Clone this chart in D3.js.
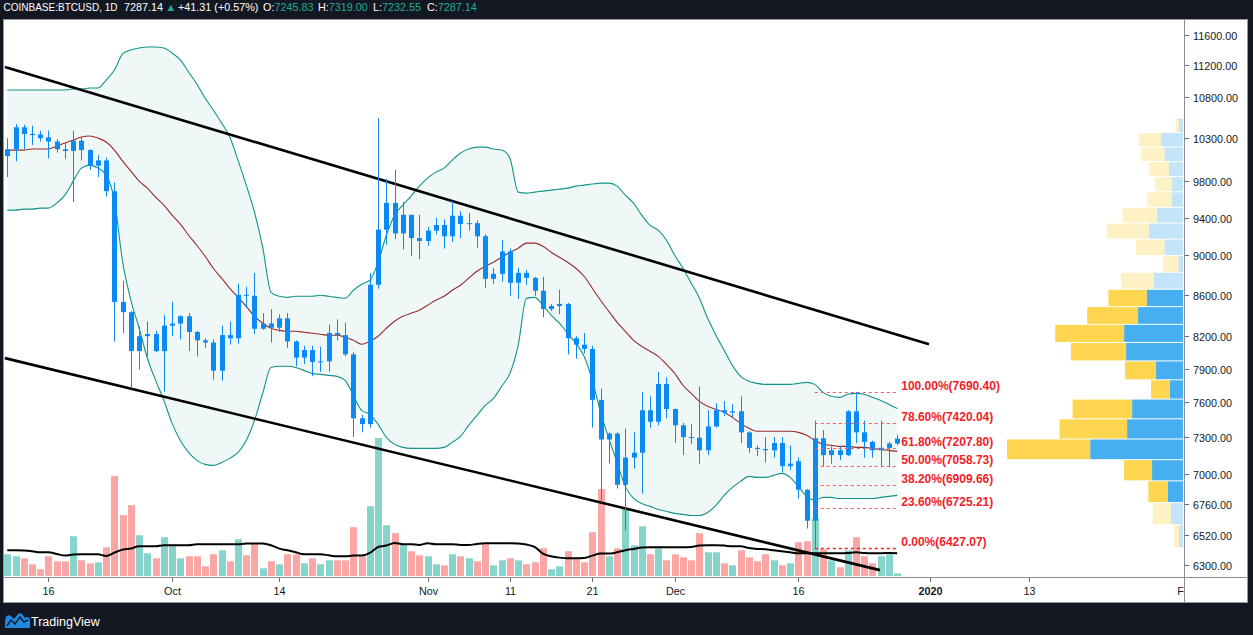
<!DOCTYPE html>
<html><head><meta charset="utf-8">
<script src="https://cdn.jsdelivr.net/npm/d3@7"></script>
<style>
html,body{margin:0;padding:0;background:#131722;overflow:hidden;}
svg{display:block;}
text{font-family:"Liberation Sans",Arial,sans-serif;}
</style></head><body>
<svg id="chart" width="1253" height="635"></svg>
<script>
// ---------------- DATA ----------------
const startDate = "2019-09-11";   // first daily candle, one candle per day
const open = [10090,10170,10430,10350,10345,10310,10260,10170,10150,10270,
  10160,9980,10040,9690,8530,8430,8060,8200,8220,8060,
  8300,8320,8390,8240,8160,8140,7880,8210,8180,8600,
  8590,8270,8320,8280,8370,8150,8000,8070,7960,7965,
  8230,8210,8030,7460,7410,8700,9270,9560,9230,9430,
  9180,9150,9260,9320,9200,9420,9330,9340,9200,8760,
  8810,9040,8720,8820,8770,8640,8460,8490,8510,8180,
  8120,8080,7620,7280,7330,6910,7130,7170,7530,7430,
  7760,7540,7400,7300,7295,7190,7390,7530,7510,7520,
  7340,7210,7200,7190,7250,7060,7100,6870,6630,7290,
  7150,7190,7150,7520,7340,7260,7190,7210,7245.83];
const high = [10300,10470,10460,10450,10390,10390,10290,10250,10390,10310,
  10170,10100,10070,9790,8740,8440,8290,8340,8250,8400,
  8530,8400,8420,8250,8180,8170,8300,8340,8710,8680,
  8820,8420,8460,8410,8420,8160,8110,8110,8100,8310,
  8360,8330,8050,7490,8820,10540,9830,9930,9570,9430,
  9430,9300,9400,9380,9580,9470,9450,9370,9220,8870,
  9160,9070,8870,8850,8780,8780,8510,8650,8520,8200,
  8230,8110,7720,7340,7340,7370,7340,7690,7650,7870,
  7820,7545,7420,7410,7740,7530,7590,7610,7580,7650,
  7350,7230,7300,7300,7300,7230,7130,6875,7440,7360,
  7220,7220,7530,7690.40,7440,7270,7440,7260,7319.00];
const low = [9850,10030,10170,10220,10260,10060,10130,10060,9570,10040,
  9930,9850,9630,8150,8230,7720,7890,8010,8050,7690,
  8200,8170,8060,8010,8090,7800,7790,8120,8130,8470,
  8220,8260,8140,8240,8090,7920,7940,7830,7870,7870,
  8160,8010,7300,7340,7380,8660,9110,9170,9060,8990,
  8960,9100,9220,9070,9140,9180,9260,9080,8670,8710,
  8730,8590,8560,8700,8590,8380,8440,8410,8030,7990,
  8040,7380,6770,7080,6880,6560,7040,6840,7380,7400,
  7460,7250,7150,7240,7080,7150,7380,7480,7470,7250,
  7170,7140,7090,7130,7010,7030,6800,6570,6427.07,7060,
  7080,7110,7140,7250,7130,7130,7060,7060,7232.55];
const close = [10170,10430,10350,10345,10300,10260,10170,10150,10270,10160,
  9980,10040,9690,8530,8430,8060,8200,8220,8060,8300,
  8320,8390,8240,8160,8140,7880,8210,8180,8600,8590,
  8270,8320,8280,8370,8150,8000,8070,7960,7965,8230,
  8210,8030,7460,7410,8700,9270,9560,9230,9430,9180,
  9150,9260,9320,9200,9420,9330,9340,9200,8760,8810,
  9040,8720,8820,8770,8640,8460,8490,8510,8180,8120,
  8080,7620,7280,7330,6910,7130,7170,7530,7430,7760,
  7540,7400,7300,7295,7190,7390,7530,7510,7520,7340,
  7210,7200,7190,7250,7060,7080,6870,6630,7290,7150,
  7190,7150,7520,7340,7260,7190,7210,7246,7287.14];
const volume = [6500,5900,5300,3500,2000,5900,4400,4400,11900,4700,
  3800,4100,8600,29900,18200,21200,12200,6800,5300,11600,
  9500,5300,5900,5900,2900,6500,7700,4400,11000,6200,
  9500,2300,4400,3500,6500,6500,3800,5300,3500,4700,
  4700,4700,14600,5900,20900,41300,15200,12800,9500,7400,
  6200,5900,3500,3200,6500,5900,5300,4400,9500,3200,
  4700,5300,4700,3500,4100,8300,2000,2900,7400,5000,
  4100,13100,26000,5900,8300,20000,9200,14900,6500,8300,
  4700,6500,5600,4700,12800,7100,7100,3800,3200,7700,
  5600,4400,6500,4700,3200,3800,10100,10400,17200,8000,
  4700,2600,7700,11600,5900,3800,5900,6500,800];
const volumeMA = [7700,7700,7600,7400,7100,7100,6600,6100,6400,6500,
  6500,6500,6000,7000,7900,8200,8900,8900,8900,9200,
  9200,9200,9200,9500,9500,9500,9500,9500,9500,9700,
  9700,9700,9200,8200,7700,7100,6500,6500,6500,6200,
  5900,5900,6100,6100,6900,8700,9100,9900,9500,9500,
  9300,9800,9500,9500,9500,9300,9300,9600,9800,9800,
  9800,9800,9700,9400,8700,6700,5900,5500,5300,5300,
  5400,6100,6700,6700,7100,7700,8100,8500,8600,8600,
  8600,8600,8600,8700,9100,9200,9200,9100,8900,8900,
  8400,8100,8000,7700,7400,7100,6800,6800,6800,6800,
  6800,6800,6900,7100,6900,6800,6800,6900,6800];
const bbUpper = [10888,10888,10888,10888,10888,10888,10888,10888,10900,10900,
  10913,10913,11014,11142,11350,11402,11428,11441,11441,11428,
  11362,11271,11116,10964,10788,10640,10482,10314,10043,9758,
  9459,9084,8625,8585,8575,8585,8585,8585,8595,8585,
  8575,8566,8645,8706,8746,8929,9211,9426,9536,9636,
  9747,9837,9905,9951,10043,10125,10172,10195,10195,10172,
  10160,10066,9680,9669,9680,9691,9702,9713,9724,9747,
  9758,9770,9780,9780,9747,9646,9558,9426,9318,9265,
  9158,9000,8867,8716,8566,8370,8209,8067,7929,7829,
  7784,7766,7757,7757,7757,7757,7766,7775,7757,7686,
  7651,7642,7669,7677,7669,7642,7615,7580,7545];
const bbBasis = [10160,10160,10160,10172,10172,10172,10206,10243,10278,10314,
  10326,10302,10255,10160,10031,9917,9803,9724,9624,9536,
  9426,9329,9211,9105,8991,8867,8766,8665,8575,8487,
  8390,8323,8275,8256,8246,8246,8237,8228,8218,8209,
  8209,8190,8161,8124,8152,8199,8275,8342,8390,8419,
  8448,8497,8546,8585,8645,8695,8766,8837,8888,8929,
  8980,9032,9074,9127,9127,9095,9032,8980,8929,8867,
  8786,8665,8546,8438,8332,8246,8161,8104,8058,8011,
  7938,7856,7749,7677,7606,7563,7537,7511,7468,7416,
  7374,7349,7349,7349,7349,7349,7340,7315,7272,7239,
  7231,7222,7222,7214,7214,7206,7197,7189,7181];
const bbLower = [9481,9481,9492,9492,9503,9503,9558,9646,9803,9951,
  9985,9951,9871,9591,8929,8546,8275,7994,7793,7615,
  7416,7272,7172,7107,7074,7066,7090,7123,7172,7272,
  7442,7678,7910,7920,7920,7910,7883,7856,7847,7838,
  7829,7793,7659,7528,7494,7408,7298,7239,7214,7206,
  7206,7206,7206,7214,7256,7306,7399,7485,7571,7632,
  7740,7856,8114,8565,8575,8497,8400,8323,8228,8133,
  8012,7793,7511,7289,7090,6897,6802,6763,6740,6716,
  6701,6686,6678,6670,6670,6693,6748,6826,6889,6937,
  6977,6969,6969,6985,7001,6969,6897,6818,6787,6810,
  6810,6802,6802,6802,6802,6802,6810,6818,6826];
// trend channel anchors [time, price]
const channelUpper = [["2019-09-10T17:00:00Z", 11180], ["2019-12-31T20:40:00Z", 8125]];
const channelLower = [["2019-09-10T17:00:00Z", 7995], ["2019-12-25T21:30:00Z", 6263]];
// Fibonacci retracement
const fibLevels = ["100.00", "78.60", "61.80", "50.00", "38.20", "23.60", "0.00"];
const fibPrices = [7690.40, 7420.04, 7207.80, 7058.73, 6909.66, 6725.21, 6427.07];
const fibFrom = "2019-12-18", fibTo = "2019-12-28";
// visible-range volume profile, 24 rows from low to high
const vpUp   = [12,36,46,93,279,168,153,40,81,171,177,135,109,89,14,56,103,79,35,34,42,56,66,12];
const vpDown = [15,55,58,84,250,203,179,56,93,166,207,153,115,97,46,85,126,103,72,50,60,70,67,9];
const vpValueArea = [2, 12];
// axes
const priceTicks = [6300,6520,6760,7000,7300,7600,7900,8200,8600,9000,9400,9800,10300,10800,11200,11600];
const timeTicks = ["2019-09-16","2019-10-01","2019-10-14","2019-11-01","2019-11-11","2019-11-21","2019-12-01","2019-12-16","2020-01-01","2020-01-13","2020-02-01"];
const timeTickLabels = ["16","Oct","14","Nov","11","21","Dec","16","2020","13","Feb"];
const boldTicks = ["2020"];
// header
const symbolText = "COINBASE:BTCUSD, 1D";
const lastPrice = "7287.14", change = "+41.31 (+0.57%)";
const ohlcLabels = ["O:", "H:", "L:", "C:"];
const ohlcValues = ["7245.83", "7319.00", "7232.55", "7287.14"];

// ---------------- DRAW ----------------
const svg = d3.select("#chart");
const parse = d3.utcParse("%Y-%m-%d");
const n = open.length;
const dates = d3.range(n).map(i => d3.utcDay.offset(parse(startDate), i));

const PL = 3, PT = 19, PR = 1184, PB = 577, AB = 602, RR = 1247;
const x = d3.scaleUtc().domain([parse(startDate), parse("2020-02-01")]).range([7.3, 1185.6]);
const y = d3.scaleLog().domain([6300, 11600]).range([565, 35]);
const yv = d3.scaleLinear().domain([0, d3.max(volume)]).range([576, 438]);

svg.append("rect").attr("width", 1253).attr("height", 635).attr("fill", "#131722");
svg.append("rect").attr("x", PL + 0.5).attr("y", PT + 0.5).attr("width", RR - PL).attr("height", AB - PT)
  .attr("fill", "#ffffff").attr("stroke", "#9598a1");

const defs = svg.append("defs");
defs.append("clipPath").attr("id", "pane").append("rect")
  .attr("x", PL + 1).attr("y", PT + 1).attr("width", PR - PL - 1).attr("height", PB - PT - 1);
defs.append("clipPath").attr("id", "taxis").append("rect")
  .attr("x", PL + 1).attr("y", PB).attr("width", PR - PL - 1).attr("height", AB - PB);

const pane = svg.append("g").attr("clip-path", "url(#pane)");

// Bollinger fill
const idx = d3.range(n);
pane.append("path").datum(idx)
  .attr("d", d3.area().x(i => x(dates[i])).y0(i => y(bbLower[i])).y1(i => y(bbUpper[i])).curve(d3.curveMonotoneX))
  .attr("fill", "rgba(38,166,154,0.075)");

// volume bars
pane.append("g").selectAll("rect").data(idx).join("rect")
  .attr("x", i => Math.round(x(dates[i])) - 3.5 + 0.5)
  .attr("width", 7)
  .attr("y", i => yv(volume[i]))
  .attr("height", i => yv(0) - yv(volume[i]))
  .attr("fill", i => close[i] >= open[i] ? "#86d4cc" : "#f9a6a5");

// volume MA
pane.append("path").datum(idx)
  .attr("d", d3.line().x(i => x(dates[i])).y(i => yv(volumeMA[i])).curve(d3.curveMonotoneX))
  .attr("fill", "none").attr("stroke", "#000").attr("stroke-width", 2);

// Bollinger lines
const bbLine = arr => d3.line().x(i => x(dates[i])).y(i => y(arr[i])).curve(d3.curveMonotoneX);
pane.append("path").datum(idx).attr("d", bbLine(bbUpper)).attr("fill", "none").attr("stroke", "#12948a").attr("stroke-width", 1.1);
pane.append("path").datum(idx).attr("d", bbLine(bbLower)).attr("fill", "none").attr("stroke", "#12948a").attr("stroke-width", 1.1);
pane.append("path").datum(idx).attr("d", bbLine(bbBasis)).attr("fill", "none").attr("stroke", "#9a2a2a").attr("stroke-width", 1.1);

// channel lines
const isoParse = d3.isoParse;
[channelUpper, channelLower].forEach(c => {
  pane.append("line")
    .attr("x1", x(isoParse(c[0][0]))).attr("y1", y(c[0][1]))
    .attr("x2", x(isoParse(c[1][0]))).attr("y2", y(c[1][1]))
    .attr("stroke", "#000").attr("stroke-width", 2.6);
});

// candles
const cg = pane.append("g");
cg.selectAll("line").data(idx).join("line")
  .attr("x1", i => Math.round(x(dates[i])) + 0.5).attr("x2", i => Math.round(x(dates[i])) + 0.5)
  .attr("y1", i => y(high[i])).attr("y2", i => y(low[i]))
  .attr("stroke", "#0a8af5").attr("stroke-width", 1);
cg.selectAll("rect").data(idx).join("rect")
  .attr("x", i => Math.round(x(dates[i])) - 2)
  .attr("width", 5)
  .attr("y", i => y(Math.max(open[i], close[i])))
  .attr("height", i => Math.max(1, y(Math.min(open[i], close[i])) - y(Math.max(open[i], close[i]))))
  .attr("fill", "#0a8af5");

// Fibonacci
const fx1 = x(parse(fibFrom)), fx2 = x(parse(fibTo));
const fg = pane.append("g");
fibPrices.forEach((p, k) => {
  const last = k === fibPrices.length - 1;
  fg.append("line").attr("x1", fx1).attr("x2", fx2)
    .attr("y1", Math.round(y(p)) + 0.5).attr("y2", Math.round(y(p)) + 0.5)
    .attr("stroke", last ? "#f0202c" : "#f45a66").attr("stroke-width", last ? 1.5 : 1)
    .attr("stroke-dasharray", "3,3");
  fg.append("text").attr("x", fx2 + 4).attr("y", y(p) - 6)
    .attr("dominant-baseline", "central")
    .attr("font-size", "12px").attr("font-weight", "bold").attr("fill", "#f21d2a")
    .text(`${fibLevels[k]}%(${p.toFixed(2)})`);
});

// volume profile
const vlo = d3.min(low), vhi = d3.max(high);
const nb = vpUp.length, step = (vhi - vlo) / nb;
const wv = d3.scaleLinear().domain([0, d3.max(vpUp.map((u, k) => u + vpDown[k]))]).range([0, 176]);
const vg = pane.append("g");
const right = PR - 1;
d3.range(nb).forEach(k => {
  const yTop = y(vlo + (k + 1) * step) + 0.5, yBot = y(vlo + k * step) - 0.5;
  const inVA = k >= vpValueArea[0] && k <= vpValueArea[1];
  const wu = wv(vpUp[k]), wd = wv(vpDown[k]);
  vg.append("rect").attr("x", right - wu).attr("y", yTop).attr("width", wu).attr("height", yBot - yTop)
    .attr("fill", inVA ? "#45aff2" : "#c4e4f9");
  vg.append("rect").attr("x", right - wu - wd).attr("y", yTop).attr("width", wd).attr("height", yBot - yTop)
    .attr("fill", inVA ? "#fdd54e" : "#fff1c6");
});

// axes lines
svg.append("line").attr("x1", PR + 0.5).attr("x2", PR + 0.5).attr("y1", PT).attr("y2", AB)
  .attr("stroke", "#8a8d96");
svg.append("line").attr("x1", PL).attr("x2", RR).attr("y1", PB + 0.5).attr("y2", PB + 0.5)
  .attr("stroke", "#8a8d96");

// price axis
const pa = svg.append("g");
priceTicks.forEach(p => {
  const yy = Math.round(y(p)) + 0.5;
  pa.append("line").attr("x1", PR + 1).attr("x2", PR + 5).attr("y1", yy).attr("y2", yy).attr("stroke", "#6a6d78");
  pa.append("text").attr("x", PR + 9).attr("y", yy).attr("dominant-baseline", "central")
    .attr("font-size", "10.8px").attr("fill", "#131722").text(d3.format(".2f")(p));
});

// time axis
const ta = svg.append("g").attr("clip-path", "url(#taxis)");
timeTicks.forEach((t, k) => {
  const xx = Math.round(x(parse(t))) + 0.5;
  ta.append("line").attr("x1", xx).attr("x2", xx).attr("y1", PB + 1).attr("y2", PB + 5).attr("stroke", "#6a6d78");
  ta.append("text").attr("x", xx).attr("y", 591).attr("text-anchor", "middle").attr("dominant-baseline", "central")
    .attr("font-size", "10.8px").attr("fill", "#131722")
    .attr("font-weight", boldTicks.includes(timeTickLabels[k]) ? "bold" : "normal")
    .text(timeTickLabels[k]);
});

// header
const hdr = svg.append("text").attr("y", 10.5).attr("font-size", "10.8px").attr("fill", "#ffffff");
const teal = "#22ab94";
hdr.append("tspan").attr("x", 3.5).attr("textLength", 114).attr("lengthAdjust", "spacingAndGlyphs").text(symbolText);
hdr.append("tspan").attr("x", 124).text(lastPrice);
hdr.append("tspan").attr("x", 165.5).attr("fill", teal).text("▲");
hdr.append("tspan").attr("x", 178).text(change);
const hx = [263, 318, 373, 427];
ohlcLabels.forEach((l, k) => {
  hdr.append("tspan").attr("x", hx[k]).text(l);
  hdr.append("tspan").attr("fill", teal).text(ohlcValues[k]);
});

// TradingView logo
const lg = svg.append("g").attr("transform", "translate(5,613)");
lg.append("path").attr("d", "M0,15 L0,8 C0,3 3,1 6,3 L9,6 L13,1 C14,0 16,0 17,1 L20,5 C22,3 25,4 25,8 L25,15 Z")
  .attr("fill", "#1e88e5");
lg.append("path").attr("d", "M2,13 L6,7 L10,11 L15,4 L19,9 L23,7").attr("fill", "none").attr("stroke", "#131722").attr("stroke-width", 1.4);
svg.append("text").attr("x", 31).attr("y", 626).attr("font-size", "12.5px").attr("fill", "#ffffff").text("TradingView");
</script>
</body></html>
